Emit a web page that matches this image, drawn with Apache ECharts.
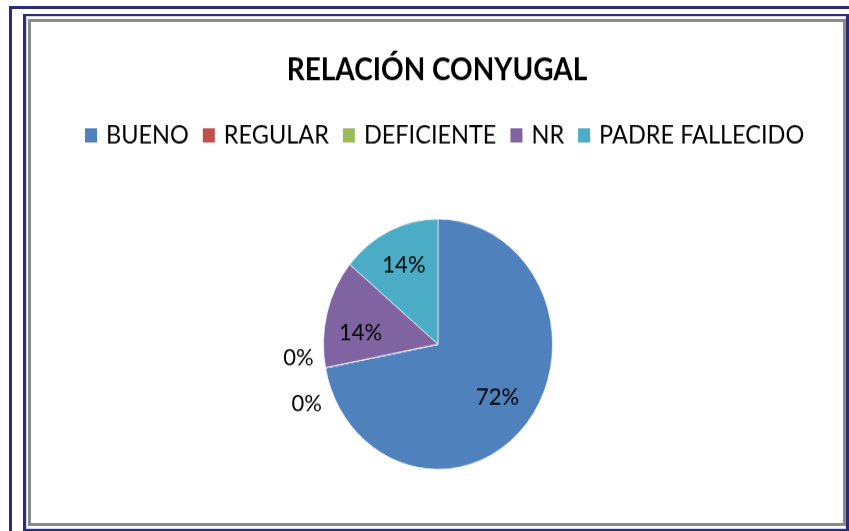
<!DOCTYPE html>
<html>
<head>
<meta charset="utf-8">
<title>Relación conyugal</title>
<script src="https://cdn.jsdelivr.net/npm/echarts@6/dist/echarts.min.js"></script>
<style>
  html, body { margin: 0; padding: 0; background: #fff; width: 849px; height: 531px; overflow: hidden; }
  .frame { position: absolute; box-sizing: border-box; }
  #outer { left: 9px; top: 6px; width: 900px; height: 600px; border-left: 3px solid #2b2c7c; border-top: 3px solid #2b2c7c; }
  #inner { left: 23px; top: 14px; width: 826px; height: 517px; border: 3px solid #2b2c7c; border-top-width: 2px; border-bottom-width: 2px; box-shadow: inset 0 0 0 1px #d4d4ee; }
  #gray { left: 28px; top: 19px; width: 818px; height: 507px; border: 3px solid #8a8a8a; }
  /* the source picture is stretched a bit vertically, so is the chart */
  #chart { position: absolute; left: 28px; top: 19px; width: 818px; height: 464px; transform: scaleY(1.0927); transform-origin: 0 0; }
</style>
</head>
<body>
<div class="frame" id="outer"></div>
<div class="frame" id="inner"></div>
<div class="frame" id="gray"></div>
<div id="chart"></div>
<script>
const categories = ["BUENO", "REGULAR", "DEFICIENTE", "NR", "PADRE FALLECIDO"];
const values = [72, 0, 0, 14, 14];
const colors = ["#4F81BD", "#C0504D", "#9BBB59", "#8064A2", "#4BACC6"];

const font = "Lato";
const center = [410, 297.6];

// small nudges so the labels sit where Excel put them
const zeroLabelShift = { 1: { dx: -4, dy: -11 }, 2: { dx: -3, dy: 7 } };
const insideLabelShift = { 0: { dx: -2, dy: -3 }, 3: { dy: 9 } };

const myChart = echarts.init(document.getElementById("chart"));

myChart.setOption({
  color: colors,
  animation: false,
  title: {
    text: "RELACIÓN CONYUGAL",
    left: "center",
    top: 33,
    padding: 0,
    textStyle: { fontFamily: font, fontWeight: "bold", fontSize: 28, color: "#000" },
  },
  legend: {
    data: categories,
    top: 94.5,
    left: 55,
    padding: 0,
    icon: "rect",
    itemWidth: 14,
    itemHeight: 15,
    itemGap: 12,
    textStyle: { fontFamily: font, fontSize: 23.5, color: "#000", padding: [0, 0, 0, 3] },
  },
  series: [
    {
      // the slices, with the outside labels of the empty ones
      type: "pie",
      center: center,
      radius: 114.5,
      startAngle: 90,
      clockwise: true,
      silent: true,
      avoidLabelOverlap: true,
      percentPrecision: 0,
      itemStyle: { borderColor: "#fff", borderWidth: 0.6 },
      label: { position: "outside", formatter: "{d}%", fontFamily: font, fontSize: 22, color: "#000" },
      labelLine: { show: false, length: 8, length2: 0 },
      labelLayout: (p) => zeroLabelShift[p.dataIndex] || {},
      data: categories.map((name, i) => ({ name: name, value: values[i], label: { show: values[i] === 0 } })),
    },
    {
      // invisible bigger pie, only to place the inside labels further out
      type: "pie",
      center: center,
      radius: 154,
      startAngle: 90,
      clockwise: true,
      silent: true,
      percentPrecision: 0,
      itemStyle: { color: "transparent" },
      label: { position: "inside", formatter: "{d}%", fontFamily: font, fontSize: 22, color: "#000" },
      labelLine: { show: false },
      labelLayout: (p) => insideLabelShift[p.dataIndex] || {},
      data: categories.map((name, i) => ({ name: name, value: values[i], label: { show: values[i] > 0 } })),
    },
  ],
});
</script>
</body>
</html>
